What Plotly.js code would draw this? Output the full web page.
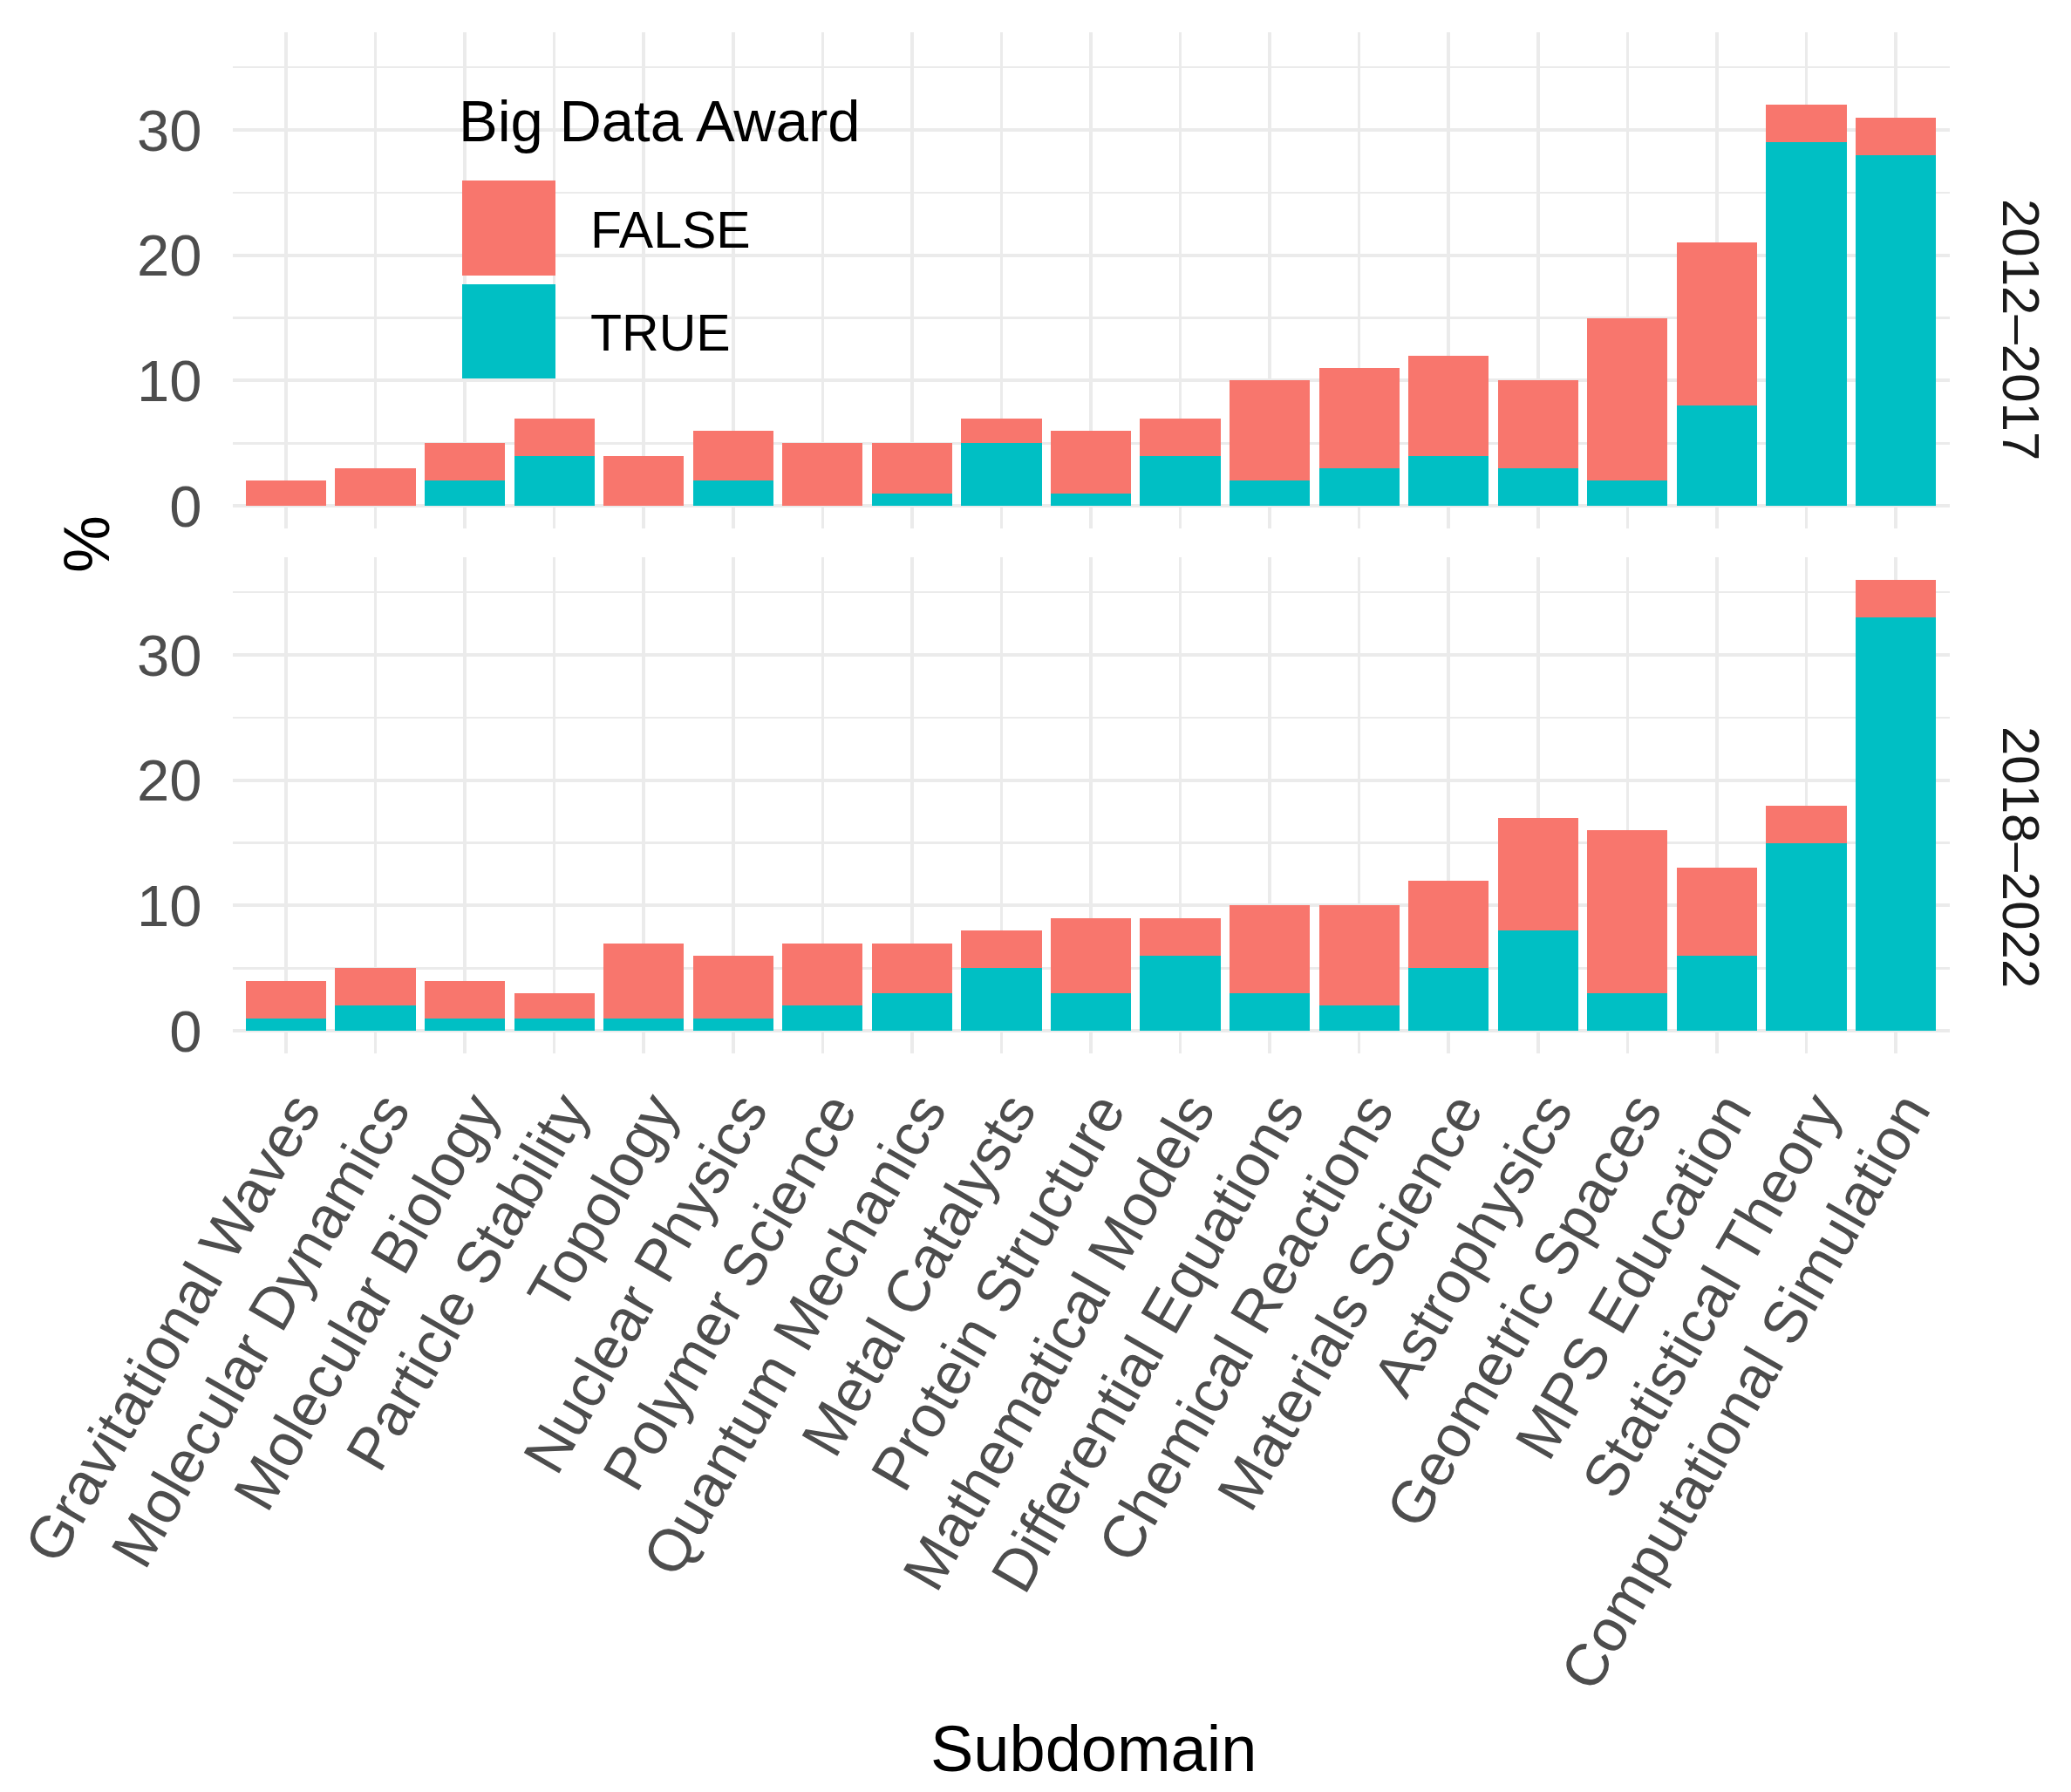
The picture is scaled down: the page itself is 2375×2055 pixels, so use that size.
<!DOCTYPE html>
<html>
<head>
<meta charset="utf-8">
<script src="https://cdn.plot.ly/plotly-3.0.1.min.js"></script>
<style>html,body{margin:0;padding:0;background:#fff;}</style>
</head>
<body>
<div id="chart" style="width:2375px;height:2055px;"></div>
<script>
// ---- data ----
const categories = ["Gravitational Waves","Molecular Dynamics","Molecular Biology","Particle Stability","Topology","Nuclear Physics","Polymer Science","Quantum Mechanics","Metal Catalysts","Protein Structure","Mathematical Models","Differential Equations","Chemical Reactions","Materials Science","Astrophysics","Geometric Spaces","MPS Education","Statistical Theory","Computational Simulation"];
const periods = ["2012\u20132017", "2018\u20132022"];
const seriesNames = ["FALSE", "TRUE"];
const true_2012_2017  = [0,0,2,4,0,2,0,1,5,1,4,2,3,4,3,2,8,29,28];
const false_2012_2017 = [2,3,3,3,4,4,5,4,2,5,3,8,8,8,7,13,13,3,3];
const true_2018_2022  = [1,2,1,1,1,1,2,3,5,3,6,3,2,5,8,3,6,15,33];
const false_2018_2022 = [3,3,3,2,6,5,5,4,3,6,3,7,8,7,9,13,7,3,3];
const yTicks = [0,10,20,30];

// ---- style ----
const W = 2375, H = 2055;
const COL_FALSE = "#F8766D", COL_TRUE = "#00BFC4";
const GRID = "#EBEBEB";
const FONT = "Liberation Sans, Arial, sans-serif";
const px = v => v / W;
const py = v => 1 - v / H;

const xDomain = [266.5 / W, 2235.5 / W];
const yTopDomain = [py(606), py(37)];
const yBotDomain = [py(1208), py(639)];

function barTrace(name, vals, xa, ya, color) {
  return {type: "bar", name: name, x: categories, y: vals, xaxis: xa, yaxis: ya,
          marker: {color: color, line: {width: 0}}, showlegend: false, hoverinfo: "x+y+name"};
}

const data = [
  barTrace(seriesNames[1], true_2012_2017, "x", "y", COL_TRUE),
  barTrace(seriesNames[0], false_2012_2017, "x", "y", COL_FALSE),
  barTrace(seriesNames[1], true_2018_2022, "x2", "y2", COL_TRUE),
  barTrace(seriesNames[0], false_2018_2022, "x2", "y2", COL_FALSE)
];

const xBase = {
  type: "category", categoryorder: "array", categoryarray: categories,
  domain: xDomain, range: [-0.6, categories.length - 0.4],
  showgrid: true, gridcolor: GRID, gridwidth: 3.5,
  zeroline: false, showline: false, ticks: "", fixedrange: true
};
const yBase = {
  range: [-1.8, 37.8], tickmode: "array", tickvals: yTicks, ticktext: yTicks.map(String),
  showgrid: true, gridcolor: GRID, gridwidth: 4,
  minor: {tick0: 0, dtick: 5, showgrid: true, gridcolor: GRID, gridwidth: 2.5, ticks: ""},
  zeroline: false, showline: false, ticks: "",
  tickfont: {family: FONT, size: 67, color: "#4D4D4D"},
  ticklabelstandoff: 34, fixedrange: true
};

function ann(text, x, y, size, opts) {
  return Object.assign({text: text, xref: "paper", yref: "paper", x: px(x), y: py(y),
    xanchor: "center", yanchor: "middle", showarrow: false,
    font: {family: FONT, size: size, color: "#000000"}}, opts || {});
}

const layout = {
  width: W, height: H,
  margin: {l: 0, r: 0, t: 0, b: 0},
  paper_bgcolor: "#FFFFFF", plot_bgcolor: "#FFFFFF",
  font: {family: FONT, color: "#000000"},
  barmode: "stack", bargap: 0.1,
  showlegend: false,
  xaxis: Object.assign({}, xBase, {anchor: "y", showticklabels: false}),
  xaxis2: Object.assign({}, xBase, {
    anchor: "y2", showticklabels: true, tickangle: -60, ticklabelshift: 12, ticklabelstandoff: 12,
    tickfont: {family: FONT, size: 68, color: "#4D4D4D"}
  }),
  yaxis: Object.assign({}, yBase, {domain: yTopDomain, anchor: "x"}),
  yaxis2: Object.assign({}, yBase, {domain: yBotDomain, anchor: "x2"}),
  shapes: [
    {type: "rect", xref: "paper", yref: "paper", x0: px(530), x1: px(637), y0: py(316), y1: py(207),
     fillcolor: COL_FALSE, line: {width: 0}},
    {type: "rect", xref: "paper", yref: "paper", x0: px(530), x1: px(637), y0: py(434), y1: py(326),
     fillcolor: COL_TRUE, line: {width: 0}}
  ],
  annotations: [
    ann("Subdomain", 1254, 2005, 74),
    ann("%", 99, 624, 74, {textangle: -90}),
    ann(periods[0], 2318, 378, 60, {textangle: 90, font: {family: FONT, size: 60, color: "#1A1A1A"}}),
    ann(periods[1], 2318, 983, 60, {textangle: 90, font: {family: FONT, size: 60, color: "#1A1A1A"}}),
    ann("Big Data Award", 524, 139, 67, {xanchor: "left"}),
    ann(seriesNames[0], 675, 264, 59, {xanchor: "left"}),
    ann(seriesNames[1], 675, 382, 59, {xanchor: "left"})
  ]
};

Plotly.newPlot("chart", data, layout, {displayModeBar: false, staticPlot: true});
</script>
</body>
</html>
